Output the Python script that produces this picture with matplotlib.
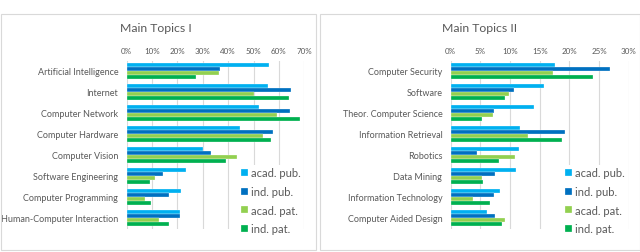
import matplotlib.pyplot as plt
import numpy as np
from matplotlib.patches import Rectangle
from matplotlib.ticker import PercentFormatter

plt.rcParams['font.family'] = ['Lato', 'DejaVu Sans']

series = ["acad. pub.", "ind. pub.", "acad. pat.", "ind. pat."]
colors = ["#00B0F0", "#0070C0", "#92D050", "#00B050"]

topics_1 = ["Artificial Intelligence", "Internet", "Computer Network", "Computer Hardware",
            "Computer Vision", "Software Engineering", "Computer Programming",
            "Human-Computer Interaction"]
acad_pub_1 = [56.0, 55.8, 52.0, 44.7, 29.9, 23.5, 21.3, 20.9]
ind_pub_1 = [36.9, 64.6, 64.3, 57.7, 33.1, 14.3, 16.8, 21.1]
acad_pat_1 = [36.3, 50.2, 59.4, 53.9, 43.3, 11.0, 7.3, 12.7]
ind_pat_1 = [27.4, 63.8, 68.3, 56.8, 39.1, 9.2, 9.7, 16.7]

topics_2 = ["Computer Security", "Software", "Theor. Computer Science", "Information Retrieval",
            "Robotics", "Data Mining", "Information Technology", "Computer Aided Design"]
acad_pub_2 = [17.5, 15.8, 14.1, 11.7, 11.5, 11.0, 8.3, 6.2]
ind_pub_2 = [26.8, 10.6, 7.3, 19.2, 4.4, 7.5, 7.3, 7.5]
acad_pat_2 = [17.2, 9.9, 7.1, 13.1, 10.8, 5.2, 3.8, 9.2]
ind_pat_2 = [24.0, 9.2, 5.3, 18.7, 8.1, 5.4, 6.7, 8.7]

W, H = 640, 253
fig = plt.figure(figsize=(6.4, 2.53), dpi=100, facecolor='white')

# panel frames
for x0, x1 in [(0.5, 316), (320, 639.5)]:
    fig.patches.append(Rectangle((x0 / W, 1 - 251 / H), (x1 - x0) / W, (251 - 15) / H,
                                 transform=fig.transFigure, fill=False,
                                 edgecolor='#D9D9D9', lw=0.8))

txt = '#595959'


def draw(rect, topics, data, xmax, step, title, title_x):
    ax = fig.add_axes(rect)
    y = np.arange(len(topics))
    h = 0.18
    for i, (vals, c, name) in enumerate(zip(data, colors, series)):
        ax.barh(y + (i - 1.5) * h, vals, height=h, color=c, label=name,
                edgecolor='white', linewidth=0.2, zorder=3)
    ax.set_ylim(len(topics) - 0.5, -0.5)
    ax.set_xlim(0, xmax)
    ax.set_xticks(np.arange(0, xmax + 0.1, step))
    ax.xaxis.set_major_formatter(PercentFormatter(decimals=0))
    ax.xaxis.tick_top()
    ax.set_yticks(y)
    ax.set_yticklabels(topics)
    ax.tick_params(axis='both', length=0, colors=txt, labelsize=6.5)
    ax.tick_params(axis='x', pad=5, labelsize=5.8)
    ax.tick_params(axis='y', pad=6)
    ax.grid(axis='x', color='#D9D9D9', lw=0.8, zorder=0)
    for s in ax.spines.values():
        s.set_visible(False)
    fig.text(title_x / W, 1 - 29 / H, title, ha='center', va='center',
             fontsize=8.8, color=txt)
    leg = ax.legend(loc='upper left', bbox_to_anchor=(0.60, 0.41), frameon=True,
                    fontsize=8, handlelength=0.6, handleheight=0.6,
                    handletextpad=0.3, labelspacing=0.68, borderpad=0.2,
                    labelcolor=txt)
    leg.get_frame().set_edgecolor('none')
    leg.get_frame().set_facecolor('white')
    leg.get_frame().set_alpha(1)
    leg.set_zorder(5)
    return ax


bottom = 1 - 229.5 / H
height = 168 / H
draw([126.7 / W, bottom, 177.6 / W, height], topics_1,
     [acad_pub_1, ind_pub_1, acad_pat_1, ind_pat_1], 70, 10, "Main Topics I", 156)
draw([450.7 / W, bottom, 178 / W, height], topics_2,
     [acad_pub_2, ind_pub_2, acad_pat_2, ind_pat_2], 30, 5, "Main Topics II", 480)

fig.savefig('out.png', dpi=100, facecolor='white')
